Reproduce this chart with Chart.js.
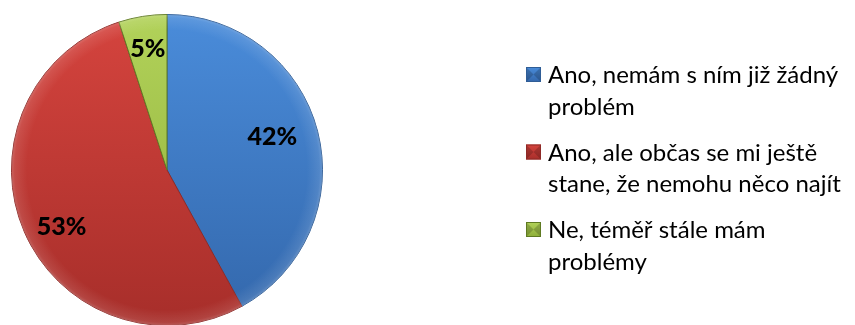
<!DOCTYPE html>
<html>
<head>
<meta charset="utf-8">
<script src="https://cdn.jsdelivr.net/npm/chart.js@4"></script>
<style>
  html, body { margin: 0; padding: 0; background: #fff; overflow: hidden; }
  #wrap { position: relative; width: 855px; height: 340px; }
</style>
</head>
<body>
<div id="wrap"><canvas id="pie"></canvas></div>
<script>
'use strict';
// answers, one line per legend row
const categories = [
    ['Ano, nemám s ním již žádný', 'problém'],
    ['Ano, ale občas se mi ještě', 'stane, že nemohu něco najít'],
    ['Ne, téměř stále mám', 'problémy']
];
const shares = [42, 53, 5];

// slice shading: light top, dark bottom, outline
const sliceTop = ['#4a8cda', '#d5443e', '#b2d25a'];
const sliceBottom = ['#3367ab', '#a72e2a', '#8dae38'];
const sliceEdge = ['#2f5d96', '#8e2a27', '#5f7a22'];

// label placement, relative to each slice's middle
const labelRadius = [0.71, 0.77, 0.79];
const labelShift = [-3, -5, 0];

const FONT = 'Lato, "Open Sans", sans-serif';

function sliceFill(ctx) {
    const chart = ctx.chart;
    const area = chart.chartArea;
    if (!area) return sliceTop[ctx.dataIndex];
    const g = chart.ctx.createLinearGradient(0, area.top, 0, area.bottom);
    g.addColorStop(0, sliceTop[ctx.dataIndex]);
    g.addColorStop(1, sliceBottom[ctx.dataIndex]);
    return g;
}

const bevelPlugin = {
    id: 'bevel',
    afterDatasetsDraw(chart) {
        const arc = chart.getDatasetMeta(0).data[0];
        if (!arc) return;
        const c = chart.ctx;
        const r = arc.outerRadius;
        c.save();
        c.beginPath();
        c.arc(arc.x, arc.y, r, 0, Math.PI * 2);
        c.clip();
        const g = c.createRadialGradient(arc.x, arc.y, r * 0.9, arc.x, arc.y, r);
        g.addColorStop(0, 'rgba(255,255,255,0)');
        g.addColorStop(0.8, 'rgba(255,255,255,0.10)');
        g.addColorStop(1, 'rgba(255,255,255,0.22)');
        c.fillStyle = g;
        c.fillRect(arc.x - r, arc.y - r, r * 2, r * 2);
        c.restore();
    }
};

const valueLabels = {
    id: 'valueLabels',
    afterDatasetsDraw(chart) {
        const c = chart.ctx;
        const meta = chart.getDatasetMeta(0);
        c.save();
        c.font = '900 25px ' + FONT;
        c.fillStyle = '#000';
        c.textAlign = 'center';
        c.textBaseline = 'middle';
        meta.data.forEach((arc, i) => {
            const mid = (arc.startAngle + arc.endAngle) / 2 + labelShift[i] * Math.PI / 180;
            const rr = arc.outerRadius * labelRadius[i];
            c.fillText(shares[i] + '%', arc.x + Math.cos(mid) * rr, arc.y + Math.sin(mid) * rr);
        });
        c.restore();
    }
};

const sideLegend = {
    id: 'sideLegend',
    afterDraw(chart) {
        const c = chart.ctx;
        const x0 = 526, size = 15, textX = 548;
        const firstBase = 83, rowGap = 77.5, lineGap = 31.5;
        c.save();
        c.font = '24px ' + FONT;
        c.textBaseline = 'alphabetic';
        categories.forEach((lines, i) => {
            const base = firstBase + i * rowGap;
            const y0 = base - 16;
            // bevelled square marker
            const g = c.createLinearGradient(0, y0, 0, y0 + size);
            g.addColorStop(0, sliceTop[i]);
            g.addColorStop(1, sliceBottom[i]);
            c.fillStyle = g;
            c.fillRect(x0, y0, size, size);
            c.fillStyle = 'rgba(0,0,0,0.18)';
            c.beginPath();
            c.moveTo(x0, y0); c.lineTo(x0 + size / 2, y0 + size / 2); c.lineTo(x0, y0 + size);
            c.closePath(); c.fill();
            c.beginPath();
            c.moveTo(x0 + size, y0); c.lineTo(x0 + size / 2, y0 + size / 2); c.lineTo(x0 + size, y0 + size);
            c.closePath(); c.fill();
            c.strokeStyle = sliceEdge[i];
            c.lineWidth = 1;
            c.strokeRect(x0 + 0.5, y0 + 0.5, size - 1, size - 1);
            c.fillStyle = '#000';
            lines.forEach((t, j) => c.fillText(t, textX, base + j * lineGap));
        });
        c.restore();
    }
};

const ctx = document.getElementById('pie');
new Chart(ctx, {
    type: 'pie',
    data: {
        labels: categories,
        datasets: [{
            data: shares,
            backgroundColor: sliceFill,
            borderColor: sliceEdge,
            borderWidth: 1
        }]
    },
    options: {
        responsive: true,
        maintainAspectRatio: false,
        animation: false,
        layout: { padding: { left: 11, top: 14, right: 532, bottom: 14 } },
        plugins: {
            legend: { display: false },
            tooltip: { enabled: false }
        }
    },
    plugins: [bevelPlugin, valueLabels, sideLegend]
});
</script>
</body>
</html>
